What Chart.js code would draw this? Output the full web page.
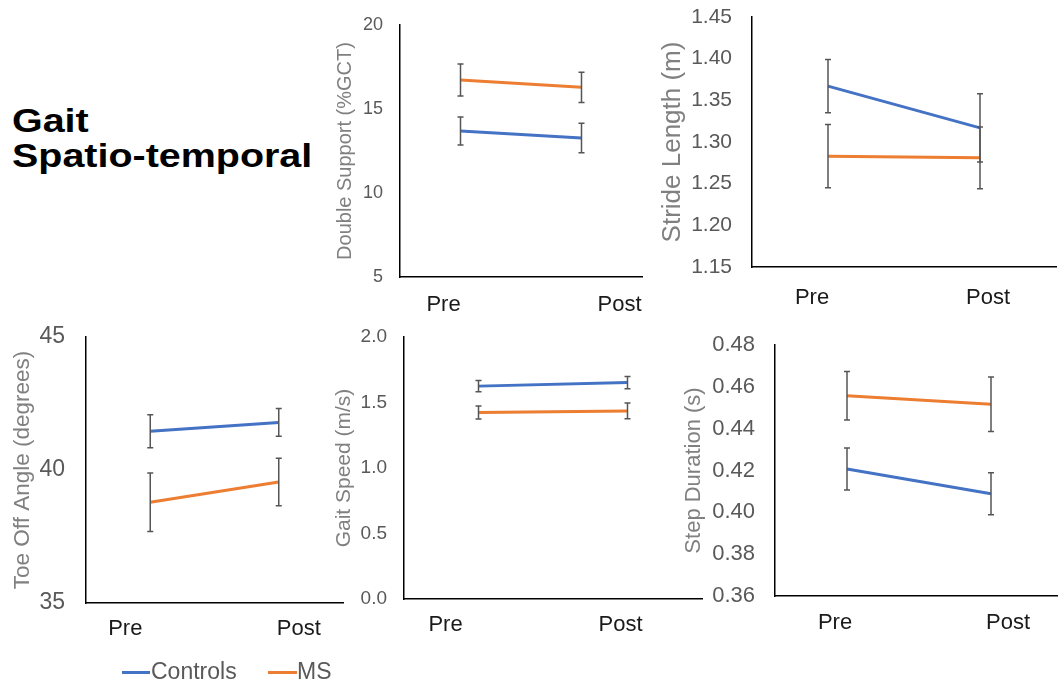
<!DOCTYPE html>
<html>
<head>
<meta charset="utf-8">
<script src="https://cdn.jsdelivr.net/npm/chart.js@4.4.0/dist/chart.umd.min.js"></script>
<style>
  html, body { margin: 0; padding: 0; background: #fff; overflow: hidden; }
  body { width: 1058px; height: 681px; position: relative; font-family: "Liberation Sans", Arial, sans-serif; }
  canvas { position: absolute; }
  #title { position: absolute; left: 12px; top: 103px; font-size: 34px; line-height: 35px; font-weight: bold; color: #000; transform: scaleX(1.16); transform-origin: left top; }
  .leg-line { position: absolute; height: 3px; top: 671px; }
  .leg-text { position: absolute; top: 658px; font-size: 23px; line-height: 27px; color: #595959; }
</style>
</head>
<body>
<div id="title">Gait<br>Spatio-temporal</div>

<canvas id="doubleSupport" width="314" height="317" style="left:330px;top:5px"></canvas>
<canvas id="strideLength" width="408" height="330" style="left:650px;top:0px"></canvas>
<canvas id="toeOff" width="345" height="340" style="left:0px;top:320px"></canvas>
<canvas id="gaitSpeed" width="374" height="340" style="left:330px;top:320px"></canvas>
<canvas id="stepDuration" width="395" height="340" style="left:670px;top:320px"></canvas>

<span class="leg-line" style="left:122px;width:28px;background:#4472C4"></span>
<span class="leg-text" style="left:151px">Controls</span>
<span class="leg-line" style="left:268px;width:29px;background:#ED7D31"></span>
<span class="leg-text" style="left:297px">MS</span>

<script>
const categories = ['Pre', 'Post'];
const seriesNames = ['Controls', 'MS'];

const doubleSupportControls = [13.69, 13.27];
const doubleSupportControlsErr = [0.83, 0.88];
const doubleSupportMS = [16.73, 16.29];
const doubleSupportMSErr = [0.95, 0.90];

const strideControls = [1.367, 1.317];
const strideControlsErr = [0.032, 0.041];
const strideMS = [1.283, 1.281];
const strideMSErr = [0.038, 0.037];

const toeOffControls = [41.46, 41.79];
const toeOffControlsErr = [0.62, 0.52];
const toeOffMS = [38.79, 39.55];
const toeOffMSErr = [1.10, 0.89];

const gaitSpeedControls = [1.625, 1.652];
const gaitSpeedControlsErr = [0.042, 0.047];
const gaitSpeedMS = [1.424, 1.436];
const gaitSpeedMSErr = [0.05, 0.06];

const stepControls = [0.4207, 0.4089];
const stepControlsErr = [0.010, 0.010];
const stepMS = [0.4557, 0.4517];
const stepMSErr = [0.0116, 0.013];

const blue = '#4472C4';
const orange = '#ED7D31';

// error bars + shifted Pre/Post labels
const extrasPlugin = {
    id: 'extras',
    afterDatasetsDraw(chart, args, opts) {
        const ctx = chart.ctx;
        const yScale = chart.scales.y;
        ctx.save();
        ctx.strokeStyle = '#555';
        ctx.lineWidth = 1.5;
        chart.data.datasets.forEach(function (ds, di) {
            const meta = chart.getDatasetMeta(di);
            meta.data.forEach(function (pt, i) {
                const top = yScale.getPixelForValue(ds.data[i] + ds.errors[i]);
                const bot = yScale.getPixelForValue(ds.data[i] - ds.errors[i]);
                ctx.beginPath();
                ctx.moveTo(pt.x, top); ctx.lineTo(pt.x, bot);
                ctx.moveTo(pt.x - 3, top); ctx.lineTo(pt.x + 3, top);
                ctx.moveTo(pt.x - 3, bot); ctx.lineTo(pt.x + 3, bot);
                ctx.stroke();
            });
        });
        ctx.restore();
    },
    afterDraw(chart, args, opts) {
        const ctx = chart.ctx;
        const xScale = chart.scales.x;
        ctx.save();
        ctx.fillStyle = '#1a1a1a';
        ctx.font = opts.size + 'px "Liberation Sans", Arial, sans-serif';
        ctx.textAlign = 'center';
        ctx.textBaseline = 'middle';
        chart.data.labels.forEach(function (label, i) {
            ctx.fillText(label, xScale.getPixelForValue(i) + opts.shift[i], chart.chartArea.bottom + opts.gap);
        });
        ctx.restore();
    }
};

let makeChart = function (id, p) {
    new Chart(document.getElementById(id), {
        type: 'line',
        data: {
            labels: categories,
            datasets: [
                { label: seriesNames[0], data: p.controls, errors: p.controlsErr, borderColor: blue, backgroundColor: blue },
                { label: seriesNames[1], data: p.ms, errors: p.msErr, borderColor: orange, backgroundColor: orange }
            ]
        },
        options: {
            responsive: false,
            animation: false,
            devicePixelRatio: 1,
            elements: {
                line: { borderWidth: 3, tension: 0 },
                point: { radius: 0, hoverRadius: 0 }
            },
            layout: { padding: { left: p.padLeft, top: p.padTop, bottom: p.padBottom, right: 2 } },
            plugins: {
                legend: { display: false },
                tooltip: { enabled: false },
                extras: { shift: p.shift, gap: p.gap, size: 22 }
            },
            scales: {
                x: {
                    type: 'category',
                    offset: true,
                    grid: { display: false, drawTicks: false },
                    border: { color: '#000', width: 1.5 },
                    ticks: { display: false }
                },
                y: {
                    min: p.min,
                    max: p.max,
                    grid: { display: false, drawTicks: false },
                    border: { color: '#000', width: 1.5 },
                    ticks: {
                        stepSize: p.step,
                        padding: p.tickPad,
                        color: '#595959',
                        font: { family: '"Liberation Sans", Arial, sans-serif', size: p.tickSize },
                        callback: function (v) { return v.toFixed(p.decimals); }
                    },
                    title: {
                        display: true,
                        text: p.title,
                        color: '#808080',
                        padding: 0,
                        font: { family: '"Liberation Sans", Arial, sans-serif', size: p.titleSize }
                    },
                    afterFit: function (scale) {
                        scale.width = p.yWidth;
                        scale.paddingTop = 0;
                        scale.paddingBottom = 0;
                    }
                }
            }
        },
        plugins: [extrasPlugin]
    });
};

makeChart('doubleSupport', {
    controls: doubleSupportControls, controlsErr: doubleSupportControlsErr,
    ms: doubleSupportMS, msErr: doubleSupportMSErr,
    min: 5, max: 20, step: 5, decimals: 0,
    title: 'Double Support (%GCT)', titleSize: 20, tickSize: 18, tickPad: 17,
    padLeft: 3, yWidth: 67, padTop: 20, padBottom: 45,
    shift: [-17, 38], gap: 28
});

makeChart('strideLength', {
    controls: strideControls, controlsErr: strideControlsErr,
    ms: strideMS, msErr: strideMSErr,
    min: 1.15, max: 1.45, step: 0.05, decimals: 2,
    title: 'Stride Length (m)', titleSize: 26, tickSize: 21, tickPad: 20,
    padLeft: 7, yWidth: 95, padTop: 17, padBottom: 63,
    shift: [-16, 8], gap: 31
});

makeChart('toeOff', {
    controls: toeOffControls, controlsErr: toeOffControlsErr,
    ms: toeOffMS, msErr: toeOffMSErr,
    min: 35, max: 45, step: 5, decimals: 0,
    title: 'Toe Off Angle (degrees)', titleSize: 22.5, tickSize: 23, tickPad: 21,
    padLeft: 9, yWidth: 77, padTop: 17, padBottom: 57,
    shift: [-25, 20], gap: 26
});

makeChart('gaitSpeed', {
    controls: gaitSpeedControls, controlsErr: gaitSpeedControlsErr,
    ms: gaitSpeedMS, msErr: gaitSpeedMSErr,
    min: 0, max: 2, step: 0.5, decimals: 1,
    title: 'Gait Speed (m/s)', titleSize: 21, tickSize: 19, tickPad: 17,
    padLeft: 2, yWidth: 72, padTop: 17, padBottom: 61,
    shift: [-33, -7], gap: 26
});

makeChart('stepDuration', {
    controls: stepControls, controlsErr: stepControlsErr,
    ms: stepMS, msErr: stepMSErr,
    min: 0.36, max: 0.48, step: 0.02, decimals: 2,
    title: 'Step Duration (s)', titleSize: 22, tickSize: 22, tickPad: 20,
    padLeft: 11, yWidth: 94, padTop: 25, padBottom: 64,
    shift: [-12, 17], gap: 27
});
</script>
</body>
</html>
